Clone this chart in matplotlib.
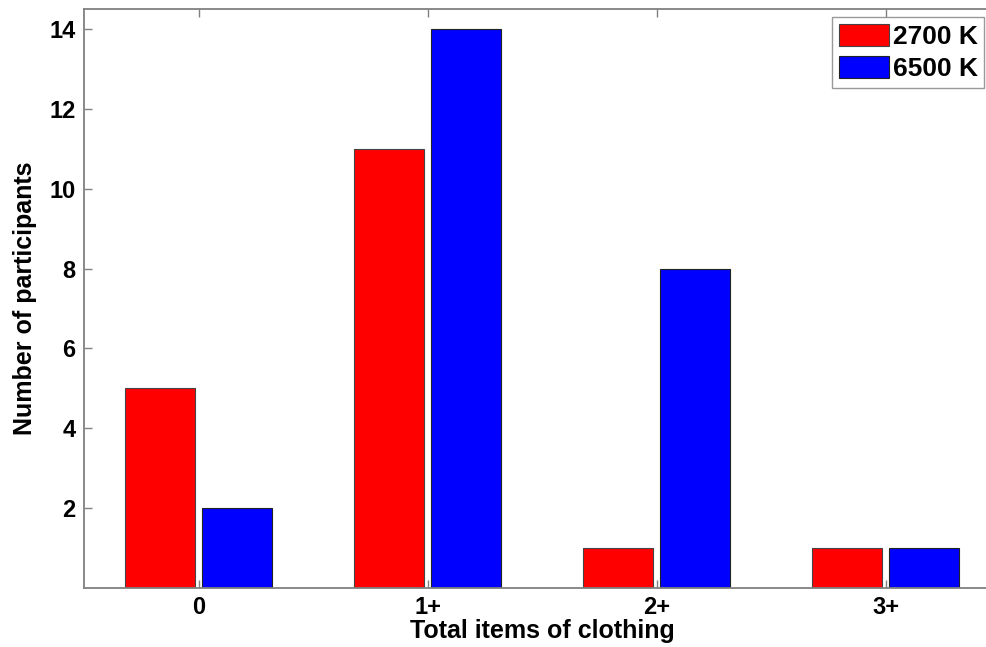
import matplotlib
matplotlib.use("Agg")
import matplotlib.pyplot as plt
import numpy as np

categories = ["0", "1+", "2+", "3+"]
series_names = ["2700 K", "6500 K"]
values_2700 = [5, 11, 1, 1]
values_6500 = [2, 14, 8, 1]
yticks = [2, 4, 6, 8, 10, 12, 14]

plt.rcParams['font.family'] = ['Liberation Sans', 'DejaVu Sans']
plt.rcParams['font.weight'] = 'bold'

fig = plt.figure(figsize=(9.87, 6.47), dpi=100)
ax = fig.add_axes([84/987, 1-588/647, (1000-84)/987, (588-9)/647])

x = np.arange(len(categories))
off = 0.167
w = 0.305
ax.bar(x - off, values_2700, w, color='#FF0000', edgecolor='#444444', linewidth=0.8, label=series_names[0])
ax.bar(x + off, values_6500, w, color='#0000FF', edgecolor='#222222', linewidth=0.8, label=series_names[1])

ax.set_xlim(-0.5, 3.5)
ax.set_ylim(0, 14.5)
ax.set_xticks(x)
ax.set_xticklabels(categories)
ax.set_yticks(yticks)
ax.tick_params(direction='in', length=6, width=1, color='#808080', labelsize=17,
               top=True, right=True, pad=6)
for s in ax.spines.values():
    s.set_color('#808080')
    s.set_linewidth(1.3)

ax.set_xlabel("Total items of clothing", fontsize=18, fontweight='bold', labelpad=0)
ax.set_ylabel("Number of participants", fontsize=18, fontweight='bold', labelpad=9)

leg = ax.legend(loc='upper left', bbox_to_anchor=(832/987, 1-17/647), bbox_transform=fig.transFigure,
                fontsize=19, frameon=True, fancybox=False, borderpad=0.25, handlelength=1.9,
                handleheight=0.95, handletextpad=0.15, labelspacing=0.25, borderaxespad=0)
leg.get_frame().set_edgecolor('#808080')
leg.get_frame().set_linewidth(1.0)
for t in leg.get_texts():
    t.set_fontweight('bold')

fig.savefig("out.png", dpi=100)
